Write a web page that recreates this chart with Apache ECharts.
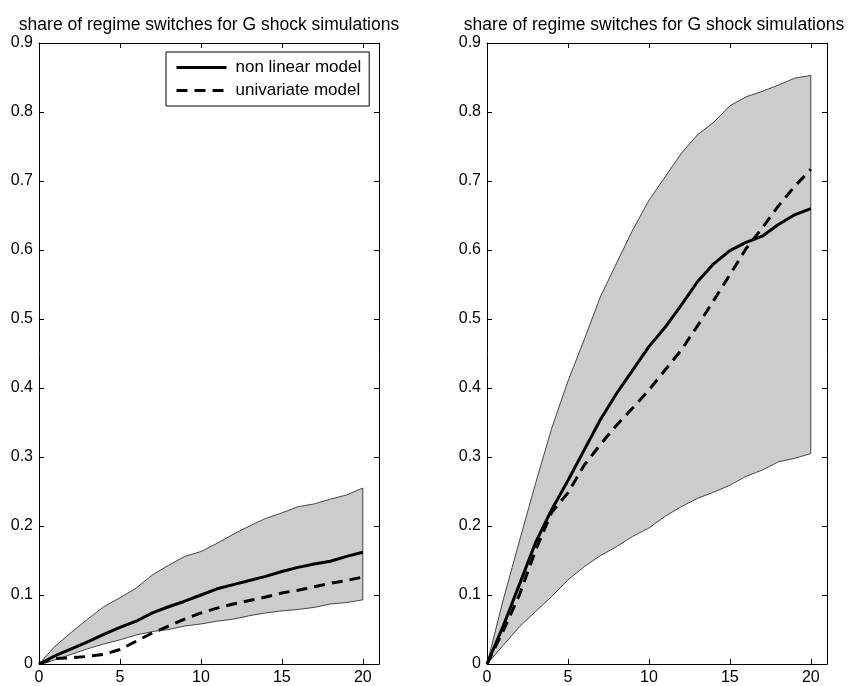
<!DOCTYPE html>
<html>
<head>
<meta charset="utf-8">
<script src="https://cdn.jsdelivr.net/npm/echarts@6.0.0/dist/echarts.min.js"></script>
<style>
html,body{margin:0;padding:0;background:#fff;}
#chart{width:850px;height:686px;}
</style>
</head>
<body>
<div id="chart"></div>
<script>
const titleText = 'share of regime switches for G shock simulations';
const horizons = [0,1,2,3,4,5,6,7,8,9,10,11,12,13,14,15,16,17,18,19,20];
const xTickValues = [0,5,10,15,20];
const yTickValues = [0,0.1,0.2,0.3,0.4,0.5,0.6,0.7,0.8,0.9];
const seriesNames = ['non linear model','univariate model'];

const leftUpper = [0,0.026,0.046,0.065,0.083,0.096,0.110,0.129,0.143,0.156,0.163,0.175,0.188,0.200,0.211,0.219,0.228,0.232,0.239,0.245,0.255];
const leftLower = [0,0.006,0.014,0.022,0.029,0.035,0.042,0.047,0.050,0.055,0.058,0.062,0.065,0.070,0.074,0.077,0.079,0.082,0.087,0.089,0.093];
const leftNonlinear = [0,0.012,0.022,0.032,0.043,0.053,0.062,0.074,0.083,0.091,0.100,0.109,0.115,0.121,0.127,0.134,0.140,0.145,0.149,0.156,0.162];
const leftUnivariate = [0,0.008,0.009,0.011,0.014,0.021,0.033,0.045,0.055,0.065,0.074,0.081,0.087,0.092,0.097,0.103,0.107,0.112,0.117,0.121,0.126];

const rightUpper = [0,0.093,0.178,0.262,0.342,0.410,0.470,0.532,0.581,0.629,0.672,0.706,0.740,0.767,0.785,0.809,0.822,0.830,0.839,0.849,0.853];
const rightLower = [0,0.027,0.054,0.076,0.098,0.122,0.141,0.157,0.170,0.185,0.197,0.214,0.228,0.240,0.249,0.259,0.272,0.281,0.293,0.298,0.305];
const rightNonlinear = [0,0.055,0.115,0.176,0.224,0.266,0.310,0.354,0.392,0.426,0.460,0.488,0.520,0.554,0.580,0.599,0.611,0.620,0.637,0.651,0.660];
const rightUnivariate = [0,0.048,0.100,0.165,0.220,0.248,0.288,0.318,0.346,0.371,0.397,0.426,0.455,0.490,0.527,0.564,0.602,0.632,0.664,0.692,0.717];

const FONT = '"Liberation Sans", Arial, Helvetica, sans-serif';

function pairs(ys){ return horizons.map((x,i)=>[x, ys[i]]); }

function bandSeries(idx, upper, lower){
  return {
    type:'custom', xAxisIndex: idx*2, yAxisIndex: idx*2, silent:true, z:1,
    data:[0],
    renderItem: function(params, api){
      const pts = [];
      for (let i=0;i<horizons.length;i++) pts.push(api.coord([horizons[i], upper[i]]));
      for (let i=horizons.length-1;i>=0;i--) pts.push(api.coord([horizons[i], lower[i]]));
      return {type:'polygon', shape:{points:pts}, style:{fill:'#cccccc', stroke:'#000', lineWidth:0.7}};
    }
  };
}

function lineSeries(idx, name, ys, dashed){
  return {
    type:'line', name:name, xAxisIndex: idx*2, yAxisIndex: idx*2, z:3,
    symbol:'none', smooth:false, silent:true,
    data: pairs(ys),
    lineStyle:{color:'#000', width:3, type: dashed ? [11,7] : 'solid'},
    itemStyle:{color:'#000'}
  };
}

function xAxes(grid){
  const base = {
    type:'value', gridIndex:grid, min:0, max:21,
    axisLine:{show:true, onZero:false, lineStyle:{color:'#000', width:1}},
    axisTick:{show:true, inside:true, length:5, customValues:xTickValues, lineStyle:{color:'#000'}},
    splitLine:{show:false}
  };
  return [
    Object.assign({}, base, {position:'bottom', axisLabel:{show:true, customValues:xTickValues, color:'#000', fontSize:16, fontFamily:FONT, margin:6}}),
    Object.assign({}, base, {position:'top', axisLabel:{show:false}})
  ];
}
function yAxes(grid){
  const base = {
    type:'value', gridIndex:grid, min:0, max:0.9, interval:0.1,
    axisLine:{show:true, onZero:false, lineStyle:{color:'#000', width:1}},
    axisTick:{show:true, inside:true, length:5, lineStyle:{color:'#000'}},
    splitLine:{show:false}
  };
  return [
    Object.assign({}, base, {position:'left', axisLabel:{show:true, color:'#000', fontSize:16, fontFamily:FONT, margin:6,
      formatter: v => String(Math.round(v*10)/10)}}),
    Object.assign({}, base, {position:'right', axisLabel:{show:false}})
  ];
}

const chart = echarts.init(document.getElementById('chart'), null, {renderer:'canvas'});
chart.setOption({
  animation:false,
  backgroundColor:'#fff',
  graphic:[
    {type:'text', x:209, y:16, style:{text:titleText, fill:'#000', font:'17.5px '+FONT, textAlign:'center', textVerticalAlign:'top'}},
    {type:'text', x:654, y:16, style:{text:titleText, fill:'#000', font:'17.5px '+FONT, textAlign:'center', textVerticalAlign:'top'}}
  ],
  grid:[
    {left:39, right:471, top:43, bottom:21, containLabel:false},
    {left:487, right:23, top:43, bottom:21, containLabel:false}
  ],
  xAxis: xAxes(0).concat(xAxes(1)),
  yAxis: yAxes(0).concat(yAxes(1)),
  legend:{
    data: seriesNames,
    orient:'vertical', left:166, top:52,
    itemWidth:50, itemHeight:14, itemGap:6,
    padding:[7,8,7,9],
    borderColor:'#000', borderWidth:1, backgroundColor:'#fff',
    itemStyle:{opacity:0},
    lineStyle:{width:3},
    textStyle:{color:'#000', fontSize:17, fontFamily:FONT, padding:[0,0,0,4]},
    selectedMode:false
  },
  series:[
    bandSeries(0, leftUpper, leftLower),
    lineSeries(0, seriesNames[0], leftNonlinear, false),
    lineSeries(0, seriesNames[1], leftUnivariate, true),
    bandSeries(1, rightUpper, rightLower),
    lineSeries(1, seriesNames[0], rightNonlinear, false),
    lineSeries(1, seriesNames[1], rightUnivariate, true)
  ]
});
</script>
</body>
</html>
